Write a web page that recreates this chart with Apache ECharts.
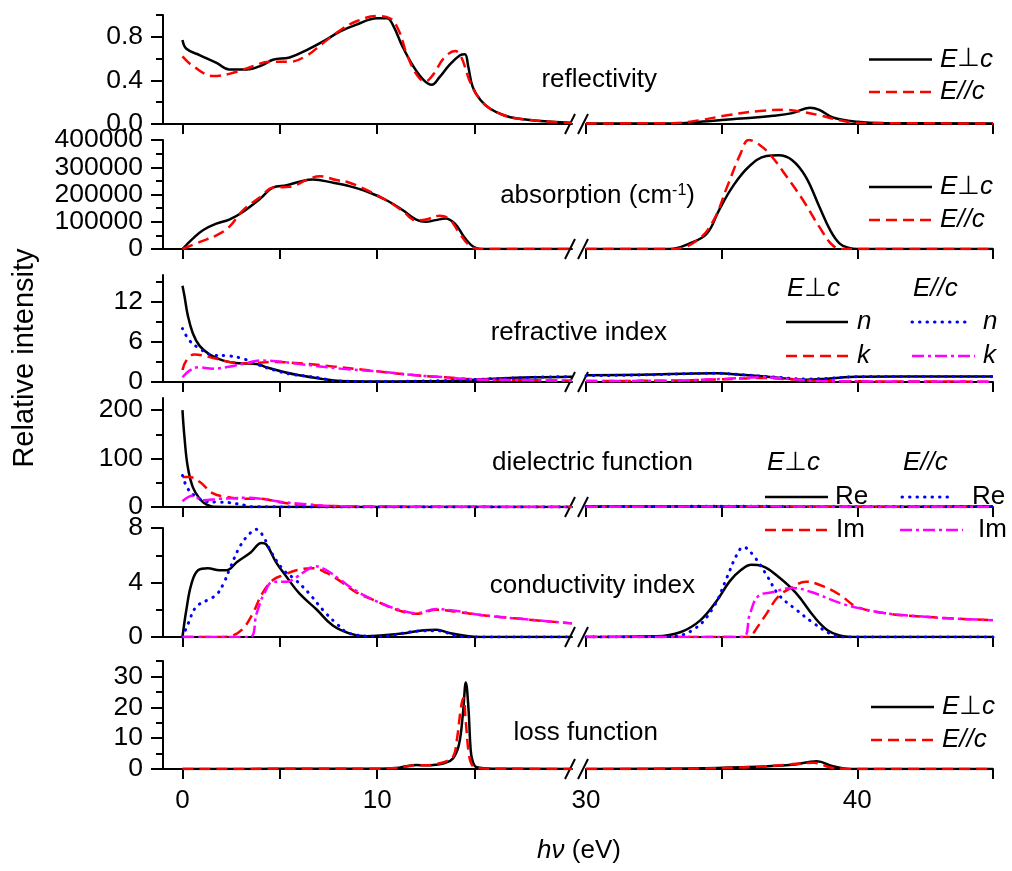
<!DOCTYPE html>
<html><head><meta charset="utf-8">
<script src="https://cdn.jsdelivr.net/npm/echarts@6/dist/echarts.min.js"></script>
<style>html,body{margin:0;padding:0;background:#fff}#c{width:1012px;height:871px}</style>
</head><body><div id="c"></div>
<script>
// ---------------- DATA (photon energy eV, value) ----------------
const reflPerp = [[0,0.77],[0.2,0.69],[0.9,0.63],[1.75,0.56],[2.4,0.5],[3.3,0.5],[4.1,0.54],[4.65,0.59],[5.5,0.61],[6.4,0.68],[7.2,0.755],[8.1,0.85],[8.9,0.91],[10,0.97],[10.5,0.97],[10.8,0.91],[11.3,0.71],[11.85,0.53],[12.4,0.40],[12.8,0.36],[13.2,0.43],[13.7,0.54],[14.25,0.63],[14.5,0.64],[14.67,0.53],[14.9,0.34],[15.3,0.22],[15.8,0.14],[16.5,0.08],[17.2,0.05],[18.9,0.02],[20,0.01],
  [30,0.005],[33,0.005],[34.7,0.03],[35.7,0.05],[36.9,0.075],[37.6,0.10],[38.25,0.15],[38.6,0.13],[39.1,0.06],[40,0.02],[41,0.008],[45,0.005]];
const reflPar = [[0,0.62],[0.55,0.53],[1.6,0.44],[2.4,0.46],[3.3,0.51],[4.5,0.57],[5.5,0.57],[6.4,0.63],[7.2,0.74],[8.1,0.86],[8.9,0.94],[10,0.99],[10.65,0.97],[11.1,0.86],[11.5,0.65],[12,0.46],[12.45,0.39],[12.9,0.46],[13.4,0.6],[14,0.67],[14.3,0.62],[14.8,0.37],[15.3,0.22],[15.8,0.14],[16.5,0.08],[17.2,0.05],[18.9,0.02],[20,0.01],
  [30,0.005],[33.2,0.008],[34.2,0.035],[35.2,0.08],[36.4,0.12],[37.4,0.13],[38,0.11],[38.6,0.08],[39.35,0.035],[40.1,0.01],[45,0.005]];
const absPerp = [[0,0],[0.53,38000],[1.05,69000],[1.74,93000],[2.4,108000],[3.1,136000],[4,185000],[4.66,226000],[5.35,234000],[6,247000],[6.7,255000],[7.75,243000],[8.5,232000],[9.5,210000],[10.5,178000],[11.3,143000],[12,108000],[12.5,100000],[13,106000],[13.5,112000],[14,92000],[14.5,40000],[15,6000],[15.5,0],[20,0],
  [30,0],[33.1,0],[33.8,20000],[34.45,56000],[34.9,142000],[35.4,228000],[36,302000],[36.65,341000],[37.1,344000],[37.6,326000],[38.1,265000],[38.6,155000],[39,69000],[39.35,20000],[39.7,4000],[40,0],[45,0]];
const absPar = [[0,0],[0.9,26000],[1.74,50000],[2.4,81000],[3.1,142000],[4,191000],[4.66,226000],[5.5,228000],[6.36,253000],[7.06,267000],[7.9,253000],[8.5,245000],[9.5,215000],[10.5,177000],[11.3,140000],[12,105000],[12.5,108000],[13.2,122000],[13.7,110000],[14.2,60000],[14.7,15000],[15.2,0],[20,0],
  [30,0],[33.2,0],[34.1,32000],[34.7,105000],[35.2,228000],[35.7,351000],[36,400000],[36.4,382000],[36.8,345000],[37.4,265000],[38,179000],[38.6,81000],[39.1,13000],[39.5,0],[45,0]];
const nPerp = [[0,14.4],[0.1,12.9],[0.27,10],[0.53,7.3],[0.88,5.4],[1.4,4.1],[2.1,3.2],[2.9,2.8],[3.8,2.7],[4.3,2.2],[5.2,1.5],[6,1.0],[7.1,0.5],[8.1,0.15],[10,0.08],[12,0.1],[14,0.2],[15,0.35],[16,0.5],[18,0.7],[20,0.8],
  [30,1.0],[32,1.1],[34.8,1.3],[35.7,1.1],[36.9,0.7],[38.1,0.35],[38.9,0.5],[40,0.8],[45,0.83]];
const kPerp = [[0,1.8],[0.2,3.2],[0.6,4.1],[1.57,3.6],[2.6,2.9],[3.6,2.8],[4.6,3.0],[6,2.8],[7.8,2.3],[10,1.6],[12,1.0],[13.5,0.7],[15,0.4],[17,0.3],[20,0.2],
  [30,0.15],[33,0.2],[35,0.4],[36.5,0.6],[37.5,0.4],[38.5,0.15],[40,0.1],[45,0.05]];
const nPar = [[0,8.0],[0.36,6.2],[0.88,5.0],[1.57,4.0],[2.4,3.9],[3.2,3.4],[3.96,2.5],[4.8,1.7],[5.5,1.2],[6.3,0.9],[7.06,0.6],[7.9,0.15],[10,0.08],[12,0.12],[14,0.25],[16,0.5],[18,0.7],[20,0.8],
  [30,0.95],[32,1.05],[34.8,1.3],[35.7,1.1],[36.9,0.75],[38.1,0.45],[38.9,0.55],[40,0.8],[45,0.83]];
const kPar = [[0,0.7],[0.36,1.7],[0.8,2.2],[1.57,2.0],[2.6,2.4],[3.26,2.8],[3.96,3.2],[4.8,3.1],[6,2.7],[8.1,2.0],[10,1.6],[12,1.0],[13.5,0.7],[15,0.4],[17,0.3],[20,0.2],
  [30,0.15],[33,0.2],[35,0.45],[36.5,0.7],[37.5,0.45],[38.5,0.15],[40,0.1],[45,0.05]];
const epsRePerp = [[0,200],[0.1,145],[0.27,83],[0.53,41],[0.88,17],[1.22,5.5],[1.57,0.5],[3,0.2],[10,0],[20,0],
  [30,1],[33,1.2],[35,1.6],[36.5,1.3],[38,0.5],[40,0.7],[45,0.8]];
const epsImPerp = [[0,62],[0.36,62],[0.88,52],[1.57,28],[2.26,21],[3.1,17],[4,17],[5,10],[6,5],[7.8,2],[10,1],[15,0.3],[20,0.1],
  [30,0.2],[35,1],[36.5,1.2],[38,0.6],[40,0.2],[45,0.1]];
const epsRePar = [[0,65],[0.27,38],[0.7,21],[1.22,12],[1.74,10],[2.4,9],[3.2,3.5],[3.6,0.5],[10,0],[20,0],
  [30,0.9],[33,1.1],[35,1.6],[36.5,1.4],[38,0.6],[40,0.7],[45,0.8]];
const epsImPar = [[0,12],[0.53,23],[1.05,14],[1.91,17],[3.3,19],[4,17],[5.2,10],[6.4,5.5],[8.1,1.4],[10,1],[15,0.3],[20,0.1],
  [30,0.2],[35,1],[36.5,1.4],[38,0.6],[40,0.2],[45,0.1]];
const sigRePerp = [[0,0],[0.2,2.0],[0.46,3.9],[0.8,4.9],[1.3,5.05],[1.9,4.9],[2.26,4.9],[2.8,5.5],[3.5,6.2],[4.06,6.9],[4.3,6.8],[4.8,5.5],[5.35,4.4],[6,3.2],[6.9,2.0],[7.7,0.86],[8.6,0.25],[9.45,0.05],[10.3,0.12],[11.5,0.3],[12.4,0.5],[13.05,0.54],[13.7,0.3],[14.6,0.07],[15.3,0],[20,0],
  [30,0],[32.6,0.05],[33.5,0.37],[34.2,1.2],[34.8,2.6],[35.3,4.1],[35.7,4.9],[36.1,5.3],[36.5,5.2],[37.1,4.4],[37.75,3.2],[38.4,1.5],[38.9,0.5],[39.35,0.12],[40,0],[45,0]];
const sigImPerp = [[0,0],[2.1,0],[2.6,0.12],[3.1,0.6],[3.6,1.7],[4.1,3.2],[4.66,4.2],[5.2,4.55],[5.85,4.9],[6.7,5.05],[7.4,4.7],[8.1,4.1],[8.9,3.3],[10,2.6],[11,2.0],[12,1.7],[13.05,2.0],[14.1,1.85],[15.4,1.6],[17.2,1.35],[20,1.0],
  [30,0],[36.1,0],[36.2,0.37],[36.65,1.7],[37.1,3.0],[37.6,3.65],[38.1,4.06],[38.7,3.75],[39.35,3.1],[40,2.2],[41.2,1.7],[42.4,1.5],[43.6,1.35],[45,1.23]];
const sigRePar = [[0,0],[0.3,1.0],[0.7,2.2],[1.4,2.8],[1.75,3.1],[2.1,3.9],[2.4,4.9],[2.95,6.65],[3.46,7.6],[3.8,7.9],[4.1,7.5],[4.57,6.2],[5.2,4.9],[5.8,4.2],[6.5,3.2],[7.2,2.0],[7.9,1.0],[8.6,0.25],[10,0.05],[12.4,0.45],[13.2,0.45],[14,0.1],[15,0],[20,0],
  [30,0],[33.1,0.03],[34,0.6],[34.7,2.2],[35.2,4.4],[35.55,6.0],[35.8,6.6],[36.2,5.9],[36.7,4.4],[37.1,3.1],[37.75,2.0],[38.4,1.0],[39,0.25],[39.4,0],[45,0]];
const sigImPar = [[0,0],[3.46,0],[3.8,1.7],[4.2,3.2],[4.66,4.05],[5.35,4.05],[5.85,4.4],[6.37,4.9],[6.8,5.2],[7.4,4.9],[8.1,4.2],[8.9,3.4],[10,2.6],[11,2.05],[12,1.75],[13.05,2.05],[14.1,1.9],[15.4,1.6],[17.2,1.35],[20,1.0],
  [30,0],[35.76,0],[36.04,1.7],[36.35,3.0],[36.9,3.3],[37.6,3.6],[38.3,3.3],[39.35,2.5],[40.1,2.1],[41.2,1.7],[42.4,1.5],[43.6,1.35],[45,1.23]];
const lossPerp = [[0,0],[5,0.05],[10,0.1],[11,0.3],[11.5,0.9],[12,1.3],[12.5,1.2],[13,1.4],[13.5,2.0],[13.9,3.5],[14.2,8],[14.4,18],[14.55,28],[14.68,20],[14.8,6],[14.9,2.5],[15.1,0.6],[16,0.1],[20,0],
  [30,0],[33.8,0.2],[35.7,0.55],[37.6,1.4],[38.5,2.5],[39.1,0.9],[39.5,0.2],[40,0],[45,0]];
const lossPar = [[0,0],[5,0.05],[10,0.1],[11,0.3],[11.5,0.8],[12,1.2],[12.5,1.2],[13,1.6],[13.5,2.4],[13.9,4],[14.1,10],[14.3,20],[14.42,23],[14.55,15],[14.7,5],[14.85,1.5],[15.1,0.3],[16,0.1],[20,0],
  [30,0],[33.5,0.1],[36.2,0.65],[37.4,1.4],[38.4,2.0],[39,0.5],[39.5,0.1],[40,0],[45,0]];

// ---------------- TICKS / LABELS ----------------
const xTicksLeft = [0,5,10,15], xLabelsLeft = [0,10];
const xTicksRight = [30,35,40,45], xLabelsRight = [30,40];
const yRanges = [[0,1.0],[0,400000],[0,16],[0,225],[0,8],[0,35]];
const yMajor = [[0,0.4,0.8],[0,100000,200000,300000,400000],[0,6,12],[0,100,200],[0,4,8],[0,10,20,30]];
const yMinor = [[0.2,0.6,1.0],[50000,150000,250000,350000],[3,9,15],[50,150],[2,6],[5,15,25,35]];
const panelTitles = ['reflectivity','absorption (cm{sup|-1})','refractive index','dielectric function','conductivity index','loss function'];

// ---------------- LAYOUT ----------------
const FONT = '"Liberation Sans", Arial, Helvetica, sans-serif';
const TOPS = [15,140,275,398,528,661];
const HEIGHTS = [109,109,107,109,109,108];
const LEFT_X = 163, LEFT_W = 409, RIGHT_X = 586, RIGHT_W = 407;
const titleRight = [657,695,667,693,695,658];
const titleY = [80,196,333,463,586,733];

const LS = {
  solid:{color:'#000000',width:2.5,type:'solid'},
  dash:{color:'#ff0000',width:2.5,type:[11,6]},
  dot:{color:'#0000ff',width:3,type:[0.5,7],cap:'round'},
  dashdot:{color:'#ff00ff',width:2.5,type:[12,4,3,4]}
};
const panelSeries = [
  [[reflPerp,'solid'],[reflPar,'dash']],
  [[absPerp,'solid'],[absPar,'dash']],
  [[nPerp,'solid'],[kPerp,'dash'],[nPar,'dot'],[kPar,'dashdot']],
  [[epsRePerp,'solid'],[epsImPerp,'dash'],[epsRePar,'dot'],[epsImPar,'dashdot']],
  [[sigRePerp,'solid'],[sigImPerp,'dash'],[sigRePar,'dot'],[sigImPar,'dashdot']],
  [[lossPerp,'solid'],[lossPar,'dash']]
];
const part = (arr, lo, hi) => arr.filter(p => p[0] >= lo && p[0] <= hi);

const grid = [], xAxis = [], yAxis = [], series = [];
const axisLineStyle = {color:'#000', width:2};
for (let i = 0; i < 6; i++) {
  const last = i === 5;
  grid.push({left:LEFT_X, top:TOPS[i], width:LEFT_W, height:HEIGHTS[i]});
  grid.push({left:RIGHT_X, top:TOPS[i], width:RIGHT_W, height:HEIGHTS[i]});
  const lab = {show:last, fontSize:26, fontFamily:FONT, color:'#000', margin:19};
  xAxis.push({gridIndex:2*i, type:'value', min:-1, max:20,
    axisLine:{onZero:false, lineStyle:axisLineStyle}, splitLine:{show:false},
    axisTick:{customValues:xTicksLeft, length:10, lineStyle:{width:2,color:'#000'}},
    axisLabel:Object.assign({customValues:xLabelsLeft}, lab)});
  xAxis.push({gridIndex:2*i+1, type:'value', min:30, max:45,
    axisLine:{onZero:false, lineStyle:axisLineStyle}, splitLine:{show:false},
    axisTick:{customValues:xTicksRight, length:10, lineStyle:{width:2,color:'#000'}},
    axisLabel:Object.assign({customValues:xLabelsRight}, lab)});
  const [mn, mx] = yRanges[i];
  yAxis.push({gridIndex:2*i, type:'value', min:mn, max:mx, position:'left',
    axisLine:{show:true, onZero:false, lineStyle:axisLineStyle}, splitLine:{show:false},
    axisTick:{show:true, customValues:yMajor[i], length:12, lineStyle:{width:2,color:'#000'}},
    axisLabel:{customValues:yMajor[i], fontSize:26.5, fontFamily:FONT, color:'#000', margin:20,
      formatter: v => i === 0 ? Number(v).toFixed(1) : String(v)}});
  yAxis.push({gridIndex:2*i, type:'value', min:mn, max:mx, position:'left',
    axisLine:{show:false, onZero:false}, splitLine:{show:false}, axisLabel:{show:false},
    axisTick:{show:true, customValues:yMinor[i], length:7, lineStyle:{width:2,color:'#000'}}});
  yAxis.push({gridIndex:2*i+1, type:'value', min:mn, max:mx, show:false});
  panelSeries[i].forEach(([arr, key], j) => {
    [[2*i, 3*i, -1, 20], [2*i+1, 3*i+2, 30, 45]].forEach(([xi, yi, lo, hi]) => {
      series.push({type:'line', xAxisIndex:xi, yAxisIndex:yi, data:part(arr, lo, hi),
        symbol:'none', smooth:0.4, z:2 + j,
        lineStyle:Object.assign({join:'round'}, LS[key]), silent:true});
    });
  });
}

// ---------------- DECORATION (text, legends, axis breaks) ----------------
const g = [];
const rich = {
  i:{fontStyle:'italic', fontSize:26, fontFamily:FONT, fill:'#000'},
  u:{fontSize:26, fontFamily:'"DejaVu Sans", sans-serif', fill:'#000'},
  sup:{fontSize:16, fontFamily:FONT, fill:'#000', verticalAlign:'top'}
};
function txt(x, y, text, opt) {
  g.push(Object.assign({type:'text', x:x, y:y, silent:true,
    style:{text:text, fontSize:26, fontFamily:FONT, fill:'#000', align:'left', verticalAlign:'middle', rich:rich}}, opt || {}));
}
function leg(x1, x2, y, key) {
  const s = LS[key];
  g.push({type:'line', silent:true, shape:{x1:x1, y1:y, x2:x2, y2:y},
    style:{stroke:s.color, lineWidth:s.width, lineDash:Array.isArray(s.type) ? s.type : null, lineCap:s.cap || 'butt'}});
}
const PERP = '{i|E}{u|⊥}{i|c}', PAR = '{i|E//c}';
for (let i = 0; i < 6; i++) {
  g.push({type:'text', x:titleRight[i], y:titleY[i], silent:true,
    style:{text:panelTitles[i], fontSize:26, fontFamily:FONT, fill:'#000', align:'right', verticalAlign:'middle', rich:rich}});
  const by = TOPS[i] + HEIGHTS[i];
  g.push({type:'line', silent:true, shape:{x1:565, y1:by+10, x2:575, y2:by-10}, style:{stroke:'#000', lineWidth:2}});
  g.push({type:'line', silent:true, shape:{x1:578, y1:by+10, x2:588, y2:by-10}, style:{stroke:'#000', lineWidth:2}});
}
[[59.5,92],[187,220],[707,740]].forEach(([y1, y2], k) => {
  const x0 = k === 2 ? 871 : 869;
  leg(x0, x0 + 63, y1, 'solid'); txt(x0 + 71, y1, PERP);
  leg(x0, x0 + 63, y2, 'dash'); txt(x0 + 71, y2, PAR);
});
txt(787, 289, PERP); txt(913, 289, PAR);
leg(786, 848, 322, 'solid'); txt(857, 322, '{i|n}');
leg(912, 966, 322, 'dot'); txt(983, 322, '{i|n}');
leg(786, 848, 356, 'dash'); txt(857, 356, '{i|k}');
leg(912, 975, 356, 'dashdot'); txt(983, 356, '{i|k}');
txt(767, 463, PERP); txt(903, 463, PAR);
leg(765, 828, 497, 'solid'); txt(835, 497, 'Re');
leg(902, 954, 497, 'dot'); txt(972, 497, 'Re');
leg(765, 828, 530, 'dash'); txt(836, 530, 'Im');
leg(900, 963, 530, 'dashdot'); txt(978, 530, 'Im');
g.push({type:'text', x:579, y:851, silent:true,
  style:{text:'{i|hν} (eV)', fontSize:26, fontFamily:FONT, fill:'#000', align:'center', verticalAlign:'middle', rich:rich}});
g.push({type:'text', x:25, y:358, rotation:Math.PI/2, silent:true,
  style:{text:'Relative intensity', fontSize:29, fontFamily:FONT, fill:'#000', align:'center', verticalAlign:'middle'}});

const chart = echarts.init(document.getElementById('c'), null, {renderer:'canvas'});
chart.setOption({animation:false, backgroundColor:'#fff', grid, xAxis, yAxis, series, graphic:{elements:g}});
</script></body></html>
